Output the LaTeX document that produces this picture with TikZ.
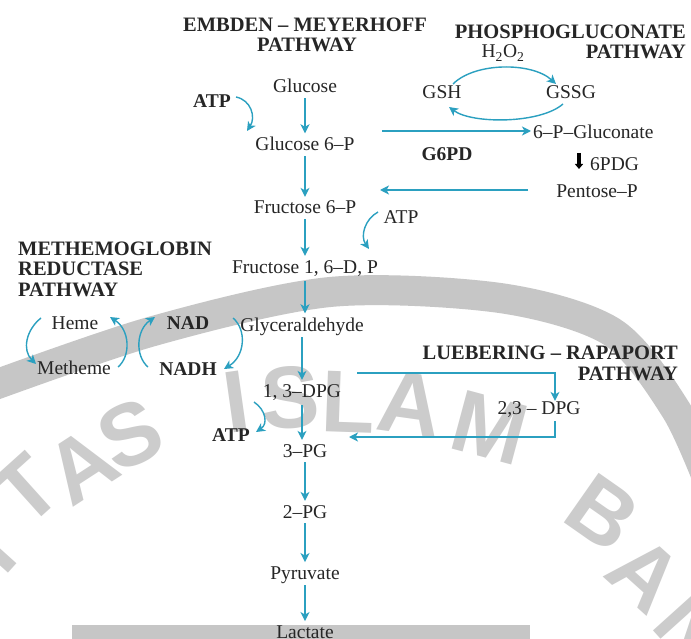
\documentclass[tikz,border=0pt]{standalone}
\usepackage{fontspec}
\setmainfont{Liberation Serif}
\newfontfamily\wmfont{Liberation Sans}
\usetikzlibrary{arrows.meta}
\definecolor{flowc}{RGB}{43,160,192}
\definecolor{wmband}{RGB}{198,198,198}
\definecolor{wmlet}{RGB}{204,204,204}
\definecolor{txt}{RGB}{38,38,38}
\begin{document}
\begin{tikzpicture}[x=1pt,y=-1pt,
  lbl/.style={font=\fontsize{19.5}{20}\selectfont, text=txt, inner sep=0pt, anchor=base},
  blbl/.style={lbl, font=\fontsize{19.5}{20}\selectfont\bfseries},
  ttl/.style={font=\fontsize{20.5}{21}\selectfont\bfseries, text=txt, inner sep=0pt, anchor=base},
  tip/.style={-{Stealth[length=9pt,width=9pt,inset=2.5pt]}},
  flow/.style={draw=flowc, line width=1.4pt, tip},
  vflow/.style={flow, shorten <=5pt, shorten >=4pt},
  wm/.style={text=wmlet, font=\wmfont\bfseries\fontsize{88}{88}\selectfont, inner sep=0pt}]
\useasboundingbox (0,0) rectangle (691,639);
\fill[white] (0,0) rectangle (691,639);

% ---------- watermark ----------
\draw[wmband, line width=30pt] plot[smooth] coordinates {(-30,394) (150,332) (330,292) (500,298) (612,332) (676,410) (712,490)};
\node[wm, rotate=48] (wI) at (-10,548) {I};
\node[wm, rotate=42] (wT) at (26,490) {T};
\node[wm, rotate=33] (wA1) at (82,466) {A};
\node[wm, rotate=25] (wS1) at (130,435) {S};
\node[wm, rotate=8] (wI2) at (236,402) {I};
\node[wm, rotate=3] (wS2) at (290,398) {S};
\node[wm, rotate=-2] (wL) at (348,402) {L};
\node[wm, rotate=-8] (wA2) at (410,404) {A};
\node[wm, rotate=-15] (wM) at (490,428) {M};
\node[wm, rotate=-35] (wB) at (603,513) {B};
\node[wm, rotate=-42] (wA3) at (645,574) {A};
\node[wm, rotate=-48] (wN) at (693,630) {N};
\fill[wmband] (72,625) rectangle (530,639);

% ---------- titles ----------
\node[ttl] (emb) at (305,32) {EMBDEN – MEYERHOFF};
\node[ttl] (embp) at (307,52) {PATHWAY};
\node[ttl, anchor=base east] (pho) at (686,39) {PHOSPHOGLUCONATE};
\node[ttl, anchor=base east] (phop) at (686,59) {PATHWAY};
\node[ttl, anchor=base west] (met1) at (18,255) {METHEMOGLOBIN};
\node[ttl, anchor=base west] (met2) at (18,276) {REDUCTASE};
\node[ttl, anchor=base west] (met3) at (18,297) {PATHWAY};
\node[ttl, anchor=base east] (lub1) at (678,359) {LUEBERING – RAPAPORT};
\node[ttl, anchor=base east] (lub2) at (678,380) {PATHWAY};

% ---------- labels ----------
\node[lbl] (h2o2) at (503,58) {H\textsubscript{2}O\textsubscript{2}};
\node[lbl] (gsh) at (442,99) {GSH};
\node[lbl] (gssg) at (571,99) {GSSG};
\node[lbl] (glc) at (305,93) {Glucose};
\node[blbl] (atp1) at (212,108) {ATP};
\node[lbl] (g6p) at (305,151) {Glucose 6–P};
\node[lbl, anchor=base west] (pglu) at (533,139) {6–P–Gluconate};
\node[blbl] (g6pd) at (447,161) {G6PD};
\node[lbl, anchor=base west] (pdg) at (590,171) {6PDG};
\node[lbl] (pent) at (597,198) {Pentose–P};
\node[lbl] (f6p) at (305,214) {Fructose 6–P};
\node[lbl] (atp2) at (401,224) {ATP};
\node[lbl] (f16) at (305,273) {Fructose 1, 6–D, P};
\node[lbl] (heme) at (75,329) {Heme};
\node[blbl] (nad) at (188,329) {NAD};
\node[lbl] (glyc) at (302,331) {Glyceraldehyde};
\node[lbl] (meth) at (74,374) {Metheme};
\node[blbl] (nadh) at (188,375) {NADH};
\node[lbl] (dpg13) at (302,397) {1, 3–DPG};
\node[lbl] (dpg23) at (539,414) {2,3 – DPG};
\node[blbl] (atp3) at (231,441) {ATP};
\node[lbl] (pg3) at (305,457) {3–PG};
\node[lbl] (pg2) at (305,518) {2–PG};
\node[lbl] (pyr) at (305,579) {Pyruvate};
\node[lbl] (lac) at (305,638) {Lactate};

% ---------- main glycolysis chain ----------
\draw[vflow] (glc.south) -- (glc.south |- g6p.north);
\draw[vflow] (g6p.south) -- (g6p.south |- f6p.north);
\draw[vflow] (f6p.south) -- (f6p.south |- f16.north);
\draw[vflow] (f16.south) -- (f16.south |- glyc.north);
\draw[vflow, shorten <=2pt] (glyc.south) -- (glyc.south |- dpg13.north);
\draw[vflow] (dpg13.south) -- (dpg13.south |- pg3.north);
\draw[vflow] (pg3.south) -- (pg3.south |- pg2.north);
\draw[vflow] (pg2.south) -- (pg2.south |- pyr.north);
\draw[vflow, shorten <=2pt] (pyr.south) -- (pyr.south |- lac.north);

% ---------- phosphogluconate ----------
\coordinate (hz1) at (382,131);
\coordinate (hz2) at (531,131);
\draw[flow] (hz1) -- (hz2);
\coordinate (pz1) at (528,190);
\coordinate (pz2) at (380,190);
\draw[flow] (pz1) -- (pz2);
\coordinate (gs1) at (453,84);
\coordinate (gs2) at (556,84);
\draw[flow] (gs1) .. controls (475,62) and (532,62) .. (gs2);
\coordinate (gs3) at (563,104);
\coordinate (gs4) at (449,107);
\draw[flow] (gs3) .. controls (540,124) and (472,124) .. (gs4);
\coordinate (pdA) at (579,153);
\coordinate (pdB) at (579,169);
\draw[black, line width=3.2pt, -{Triangle[length=5pt,width=8pt]}] (pdA) -- (pdB);

% ---------- ATP side arrows ----------
\coordinate (a1s) at (236,97);
\coordinate (a1e) at (247,131);
\draw[flow] (a1s) .. controls (251,100) and (256,117) .. (a1e);
\coordinate (a2s) at (378,212);
\coordinate (a2e) at (369,249);
\draw[flow] (a2s) .. controls (365,219) and (360,236) .. (a2e);
\coordinate (a3s) at (254,402);
\coordinate (a3e) at (256,432);
\draw[flow] (a3s) .. controls (266,410) and (268,424) .. (a3e);

% ---------- methemoglobin reductase ----------
\coordinate (m1s) at (41,318);
\coordinate (m1e) at (36,364);
\draw[flow] (m1s) .. controls (26,330) and (22,350) .. (m1e);
\coordinate (m2s) at (118,367);
\coordinate (m2e) at (110,317);
\draw[flow] (m2s) .. controls (131,356) and (130,330) .. (m2e);
\coordinate (m3s) at (148,367);
\coordinate (m3e) at (155,317);
\draw[flow] (m3s) .. controls (135,356) and (136,330) .. (m3e);
\coordinate (m4s) at (233,318);
\coordinate (m4e) at (224,369);
\draw[flow] (m4s) .. controls (247,330) and (245,356) .. (m4e);

% ---------- Luebering-Rapaport ----------
\coordinate (l1) at (357,373);
\coordinate (l2) at (555,373);
\coordinate (l3) at (555,421);
\coordinate (l4) at (555,437);
\coordinate (l5) at (349,437);
\draw[flow] (l1) -- (l2) -- (l2 |- dpg23.north);
\draw[flow] (l3) -- (l4) -- (l5);
\end{tikzpicture}
\end{document}
